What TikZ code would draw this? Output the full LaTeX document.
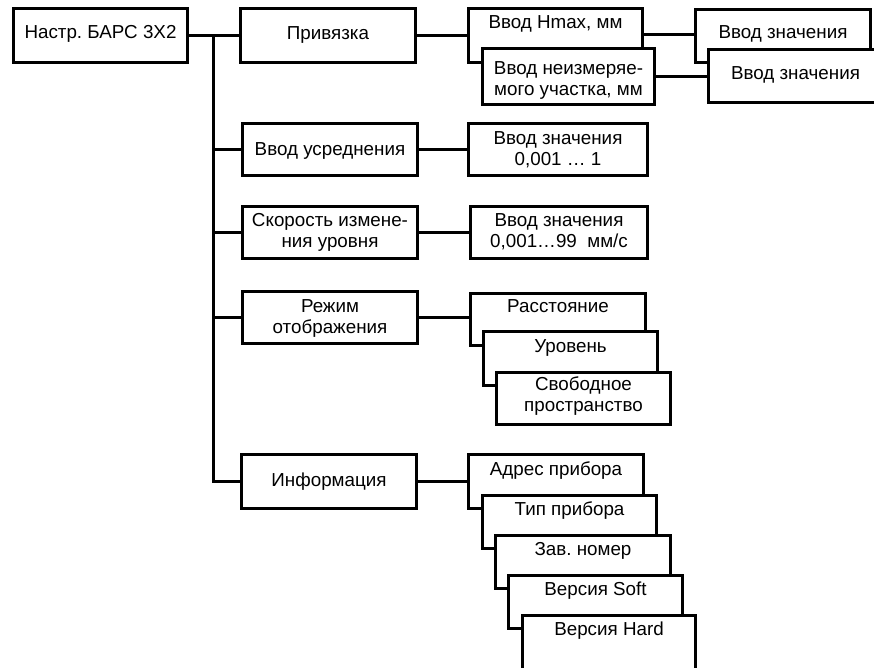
\documentclass[tikz,border=0pt]{standalone}
\usepackage{fontspec}
\setmainfont{Liberation Sans}
\frenchspacing
\newcommand{\boxfont}{\fontsize{18.8}{21}\selectfont}
% height, width, top gap, text
\newcommand{\tb}[4]{\parbox[c][#1pt][t]{#2pt}{\centering\vspace*{#3pt}\strut #4}}
\tikzset{
  tbox/.style={draw, fill=white, line width=3pt, inner sep=0pt, outer sep=0pt,
              anchor=north west, font=\boxfont},
  conn/.style={line width=3pt},
}
\begin{document}
\begin{tikzpicture}[x=1pt,y=-1pt]
\clip (0,0) rectangle (874,667);
\fill[white] (0,0) rectangle (874,667);
\begin{scope}[shift={(0.5,0.5)}]
% level 1
\node[tbox] (root) at (13,8) {\tb{54}{174}{15.5}{Настр. БАРС 3Х2}};
\node[tbox] (priv) at (240,8) {\tb{54}{175}{16}{Привязка}};
\node[tbox] (usr) at (242,123) {\tb{52}{175}{17}{Ввод усреднения}};
\node[tbox] (spd) at (242,206) {\tb{52}{175}{5.5}{Скорость измене-\\ния уровня}};
\node[tbox] (mode) at (242,291) {\tb{52}{175}{6.5}{Режим\\отображения}};
\node[tbox] (info) at (241,454) {\tb{54}{175}{17}{Информация}};
% Привязка branch
\node[tbox] (hmax) at (468,8) {\tb{54}{174}{5.5}{Ввод Hmax, мм}};
\node[tbox] (neizm) at (482,48) {\tb{56}{172}{11}{Ввод неизмеряе-\\мого участка, мм}};
\node[tbox] (vz1) at (695,9) {\tb{53}{175}{14.5}{Ввод значения}};
\node[tbox] (vz2) at (708,49) {\tb{53}{174}{15.5}{Ввод значения}};
% value boxes
\node[tbox] (vza) at (468,123) {\tb{52}{179}{6}{Ввод значения\\0,001 … 1}};
\node[tbox] (vzb) at (470,206) {\tb{52}{177}{5.5}{Ввод значения\\0,001…99~~мм/с}};
% display mode
\node[tbox] (rass) at (470,293) {\tb{52}{175}{4}{Расстояние}};
\node[tbox] (urov) at (483,331) {\tb{54}{174}{6}{Уровень}};
\node[tbox] (svob) at (496,372) {\tb{52}{174}{3.5}{Свободное\\пространство}};
% information
\node[tbox] (addr) at (468,454) {\tb{54}{175}{6}{Адрес прибора}};
\node[tbox] (tip) at (482,495) {\tb{53}{174}{5}{Тип прибора}};
\node[tbox] (zav) at (495,535) {\tb{53}{175}{5}{Зав. номер}};
\node[tbox] (soft) at (508,575) {\tb{53}{174}{5}{Версия Soft}};
\node[tbox] (hard) at (522,615) {\tb{70}{173}{5}{Версия Hard}};
% connectors
\coordinate (j) at (213,35);
\draw[conn] (root.east) -- (root.east -| priv.west);
\draw[conn] (j) |- (usr.west);
\draw[conn] (j) |- (spd.west);
\draw[conn] (j) |- (mode.west);
\draw[conn] (j) |- (info.west);
\draw[conn] (priv.east) -- (priv.east -| hmax.west);
\coordinate (r1) at (0,34);
\draw[conn] (hmax.east |- r1) -- (vz1.west |- r1);
\draw[conn] (neizm.east) -- (neizm.east -| vz2.west);
\draw[conn] (usr.east) -- (usr.east -| vza.west);
\draw[conn] (spd.east) -- (spd.east -| vzb.west);
\draw[conn] (mode.east) -- (mode.east -| rass.west);
\draw[conn] (info.east) -- (info.east -| addr.west);
\end{scope}
\end{tikzpicture}
\end{document}
